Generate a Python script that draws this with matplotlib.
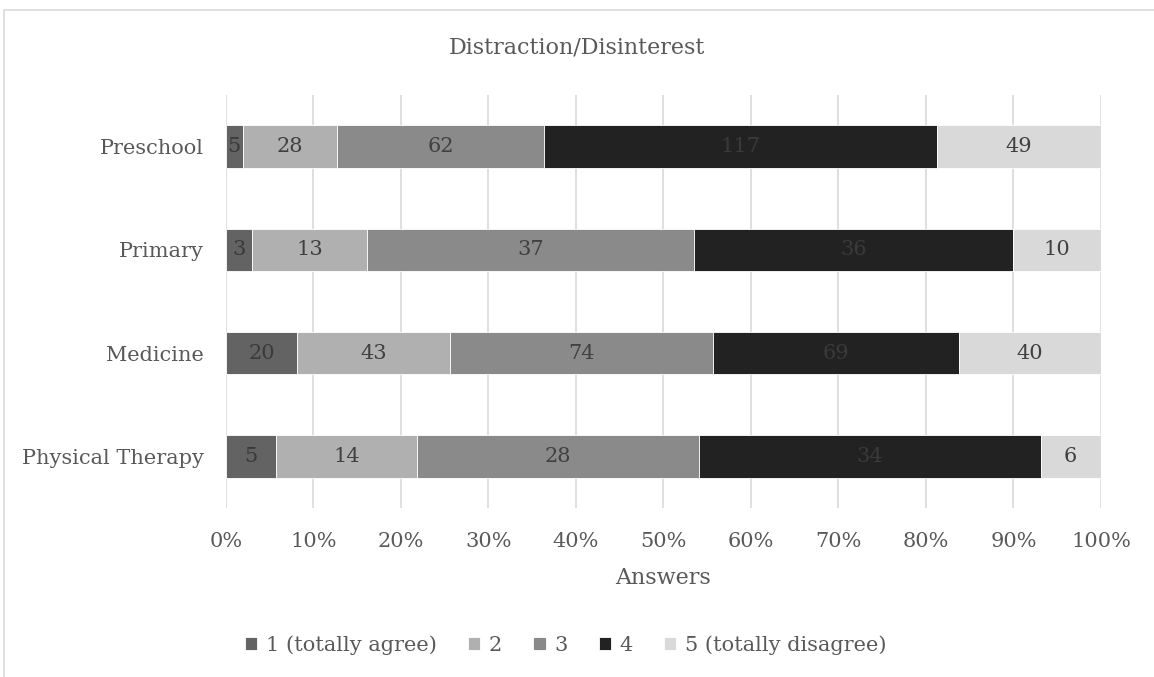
import matplotlib
matplotlib.use('Agg')
import matplotlib.pyplot as plt
from matplotlib.patches import Rectangle
import numpy as np

plt.rcParams['font.family'] = ['DejaVu Serif']

categories = ['Preschool', 'Primary', 'Medicine', 'Physical Therapy']
levels = ['1 (totally agree)', '2', '3', '4', '5 (totally disagree)']
counts = [
    [5, 28, 62, 117, 49],
    [3, 13, 37, 36, 10],
    [20, 43, 74, 69, 40],
    [5, 14, 28, 34, 6],
]
colors = ['#636363', '#b0b0b0', '#8a8a8a', '#222222', '#d9d9d9']
label_colors = ['#3a3a3a', '#404040', '#404040', '#3a3a3a', '#404040']

data = np.array(counts, dtype=float)
shares = data / data.sum(axis=1, keepdims=True)

fig = plt.figure(figsize=(11.54, 6.77), dpi=100)
ax = fig.add_axes([0.1958, 0.2496, 0.7582, 0.6101])

# outer chart border (right and bottom edges run off the canvas)
fig.patches.append(Rectangle((4 / 1154, -0.1), 1.2, 1 - 10 / 677 + 0.1,
                             transform=fig.transFigure, fill=False,
                             edgecolor='#d9d9d9', linewidth=1.2))

ypos = np.arange(len(categories))[::-1]
left = np.zeros(len(categories))
for j, lev in enumerate(levels):
    bars = ax.barh(ypos, shares[:, j], left=left, height=0.41,
                   color=colors[j], label=lev, zorder=3,
                   edgecolor='white', linewidth=0.6)
    for i, b in enumerate(bars):
        ax.text(left[i] + shares[i, j] / 2, ypos[i], str(counts[i][j]),
                ha='center', va='center', fontsize=15,
                color=label_colors[j], zorder=4)
    left += shares[:, j]

ax.set_xlim(0, 1)
ax.set_ylim(-0.5, 3.5)
ax.set_yticks(ypos)
ax.set_yticklabels(categories)
ax.set_xticks(np.linspace(0, 1, 11))
ax.set_xticklabels(['%d%%' % v for v in range(0, 101, 10)])
ax.tick_params(axis='both', length=0, labelsize=15, labelcolor='#595959')
ax.tick_params(axis='x', pad=17)
ax.tick_params(axis='y', pad=16)
ax.xaxis.grid(True, color='#d9d9d9', linewidth=1.2, zorder=0)
for s in ax.spines.values():
    s.set_visible(False)

ax.set_xlabel('Answers', fontsize=16, color='#595959', labelpad=12)
fig.text(0.5, 1 - 47 / 677, 'Distraction/Disinterest', ha='center',
         va='center', fontsize=16, color='#595959')

fig.legend(loc='center', bbox_to_anchor=(0.49, 1 - 645 / 677), ncol=5,
           frameon=False, fontsize=15, handlelength=0.6, handleheight=0.6,
           handletextpad=0.4, columnspacing=1.5, labelcolor='#595959')

fig.savefig('out.png', dpi=100)
